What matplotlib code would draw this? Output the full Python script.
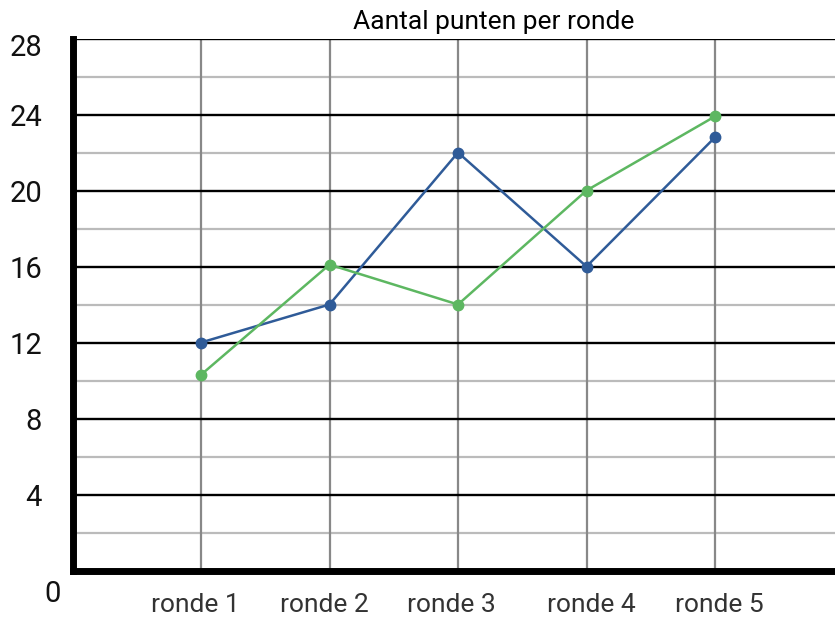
import matplotlib
matplotlib.use("Agg")
import matplotlib.pyplot as plt
from matplotlib.transforms import ScaledTranslation

plt.rcParams['font.family'] = ['Roboto', 'DejaVu Sans']

title = "Aantal punten per ronde"
categories = ["ronde 1", "ronde 2", "ronde 3", "ronde 4", "ronde 5"]
series_blue = [12, 14, 22, 16, 22.8]
series_green = [10.3, 16.1, 14, 20, 23.9]
y_major = [0, 4, 8, 12, 16, 20, 24, 28]
y_major_labels = ["0", "4", "8", "12", "16", "20", "24", "28"]
y_minor = [2, 6, 10, 14, 18, 22, 26]

W, H = 835, 619
fig = plt.figure(figsize=(W / 100, H / 100), dpi=100)
left, right, top, bottom = 72.5, 835, 38.5, 570.5
ax = fig.add_axes([left / W, 1 - bottom / H, (right - left) / W, (bottom - top) / H])

x = list(range(1, len(categories) + 1))
ax.set_xlim(0, (right - left) / 128.5)
ax.set_ylim(0, 28)

# grid
for yv in y_minor:
    ax.axhline(yv, color="#bbbbbb", lw=1.6, zorder=1)
for yv in y_major[1:]:
    ax.axhline(yv, color="black", lw=1.7, zorder=1.5)
for xv in x:
    ax.axvline(xv, color="#888888", lw=1.6, zorder=1.2)

ax.plot(x, series_blue, color="#2f5b98", lw=1.8, marker="o", ms=7.5, zorder=3)
ax.plot(x, series_green, color="#5db761", lw=1.8, marker="o", ms=7.5, zorder=3)

for s in ["top", "right"]:
    ax.spines[s].set_visible(False)
ax.spines["left"].set_linewidth(5)
ax.spines["bottom"].set_linewidth(5)
ax.spines["left"].set_zorder(4)
ax.spines["bottom"].set_zorder(4)

ax.set_yticks(y_major)
ax.set_yticklabels(y_major_labels)
ax.set_xticks(x)
ax.set_xticklabels(categories)
ax.tick_params(axis="y", length=0, pad=22, labelsize=21, labelcolor="#111111")
ax.tick_params(axis="x", length=0, pad=16, labelsize=19, labelcolor="#333333")
for lab, dx in zip(ax.get_xticklabels(), [-6, -5, -7, 5, 4]):
    lab.set_transform(lab.get_transform() + ScaledTranslation(dx / 100, 0, fig.dpi_scale_trans))

for lab in ax.get_yticklabels():
    t = lab.get_text()
    if t == "0":
        lab.set_transform(lab.get_transform() + ScaledTranslation(0.19, -0.20, fig.dpi_scale_trans))
    elif t == "28":
        lab.set_transform(lab.get_transform() + ScaledTranslation(0, -0.07, fig.dpi_scale_trans))

fig.text(494 / W, 1 - 22 / H, title, ha="center", va="center", fontsize=19, color="black")

fig.savefig("out.png", dpi=100)
